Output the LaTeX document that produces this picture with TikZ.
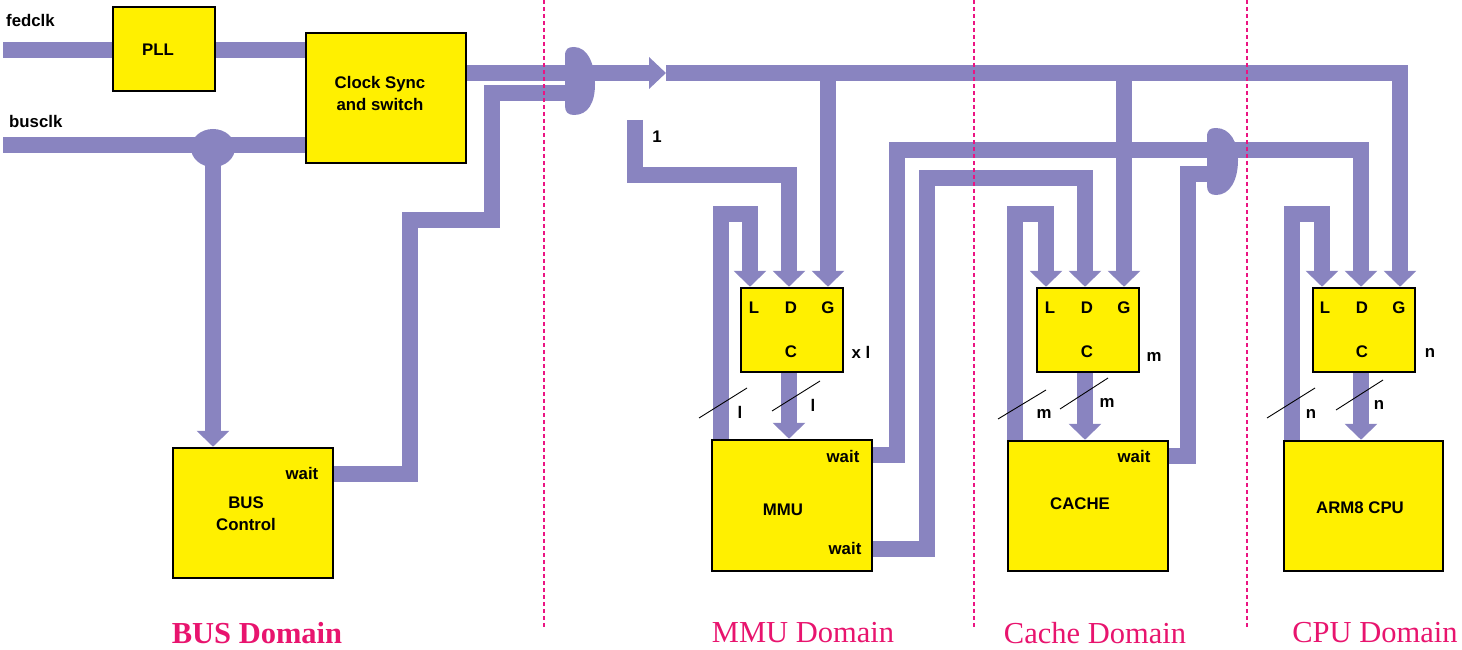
\documentclass[tikz,border=0pt]{standalone}
\usepackage{fontspec}
\setmainfont{Liberation Serif}
\setsansfont{Liberation Sans}
\usetikzlibrary{arrows.meta,backgrounds}
\definecolor{wire}{RGB}{137,132,192}
\definecolor{boxy}{RGB}{255,240,0}
\definecolor{dom}{RGB}{232,20,110}
\definecolor{sep}{RGB}{235,20,130}
\begin{document}
\begin{tikzpicture}[x=1pt,y=-1pt,
 wire/.style={draw=wire,line width=16pt},
 blob/.style={fill=wire,draw=none},
 arr/.style={wire,-{Triangle[width=32pt,length=16pt]}},
 box/.style={draw=black,fill=boxy,line width=2.5pt,inner sep=0pt},
 lbl/.style={font=\sffamily\bfseries\fontsize{16.8}{22}\selectfont,inner sep=0pt},
 domlbl/.style={font=\fontsize{30.5}{32}\selectfont,text=dom,inner sep=0pt},
 sepline/.style={draw=sep,line width=2.5pt,dash pattern=on 4pt off 3pt},
 slash/.style={draw=black,line width=0.9pt}]
\useasboundingbox (0,0) rectangle (1462,650);

% boxes
\node[box,minimum width=102pt,minimum height=84pt] (pll) at (164,49) {};
\node[box,minimum width=160pt,minimum height=130pt] (cs) at (386,98) {};
\node[box,minimum width=160pt,minimum height=130pt] (busctl) at (253,513) {};
\node[box,minimum width=102pt,minimum height=84pt] (ldg1) at (792,330) {};
\node[box,minimum width=160pt,minimum height=131pt] (mmu) at (792,505.5) {};
\node[box,minimum width=102pt,minimum height=84pt] (ldg2) at (1088,330) {};
\node[box,minimum width=160pt,minimum height=130pt] (cache) at (1088,506) {};
\node[box,minimum width=102pt,minimum height=84pt] (ldg3) at (1364,330) {};
\node[box,minimum width=159pt,minimum height=130pt] (cpu) at (1363.5,506) {};

% input points of the LDG boxes
\foreach \i in {1,2,3}{
  \coordinate (L\i) at ([xshift=-42pt]ldg\i.north);
  \coordinate (D\i) at ([xshift=-3pt]ldg\i.north);
  \coordinate (G\i) at ([xshift=36pt]ldg\i.north);
}

\coordinate (fedin) at (3,50);
\coordinate (busin) at (3,145);
\coordinate (jn) at (213,148);
\coordinate (m1) at (568,73);
\coordinate (m1out) at (590,73);
\coordinate (a1) at (666,73);
\coordinate (one) at (635,120);
\coordinate (bw) at ([yshift=39pt]busctl.east);
\coordinate (mw1) at ([yshift=50.5pt]mmu.east);
\coordinate (mw2) at ([yshift=-43.5pt]mmu.east);
\coordinate (cw) at ([yshift=50pt]cache.east);

\begin{scope}[on background layer]
% clock inputs
\draw[wire] (fedin) -- (fedin -| pll.west);
\draw[wire] (pll.east |- fedin) -- (cs.west |- fedin);
\draw[wire] (busin) -- (busin -| cs.west);
\fill[blob] (jn) ellipse [x radius=22pt, y radius=19pt];
\draw[arr] (jn) -- (jn |- busctl.north);
% clock sync to merge
\draw[wire] (cs.east |- m1) -- (m1);
\draw[wire] (bw) -| (410,220) -| (492,93) -- (570,93);
\fill[blob] (565,56) .. controls (565,49) and (568,47) .. (574,47)
  .. controls (588,47) and (595,65) .. (595,84)
  .. controls (595,103) and (588,115) .. (574,115)
  .. controls (568,115) and (565,112) .. (565,106) -- cycle;
\draw[wire,-{Triangle[width=31pt,length=17pt]}] (m1out) -- (a1);
% main clock bus
\draw[arr] (a1) -| (G3);
\draw[arr] (G1 |- a1) -- (G1);
\draw[arr] (G2 |- a1) -- (G2);
% constant 1 input
\draw[arr] (one) |- ([yshift=112pt]D1) -- (D1);
% L loops
\draw[arr] ([xshift=-71pt]mmu.north) |- ([yshift=73pt]L1) -- (L1);
\draw[arr] ([xshift=-73pt]cache.north) |- ([yshift=73pt]L2) -- (L2);
\draw[arr] ([xshift=-71.5pt]cpu.north) |- ([yshift=73pt]L3) -- (L3);
% C outputs
\draw[arr] (ldg1.south -| D1) -- (D1 |- mmu.north);
\draw[arr] (ldg2.south -| D2) -- (D2 |- cache.north);
\draw[arr] (ldg3.south -| D3) -- (D3 |- cpu.north);
% wait lines
\draw[arr] (mw1) -| (897,150) -| (D3);
\draw[arr] (mw2) -| (927,178) -| (D2);
\draw[wire] (cw) -| (1188,174) -- (1212,174);
\fill[blob] (1207,137) .. controls (1207,130) and (1210,128) .. (1216,128)
  .. controls (1230,128) and (1238,142) .. (1238,160)
  .. controls (1238,180) and (1230,195) .. (1216,195)
  .. controls (1210,195) and (1207,192) .. (1207,186) -- cycle;
\end{scope}

% texts
\node[lbl,anchor=west] (tfed) at (6,20) {fedclk};
\node[lbl,anchor=west] (tbus) at (9,121) {busclk};
\node[lbl] (tpll) at (158,50) {PLL};
\node[lbl,align=center] (tcs) at (380,93) {Clock Sync\\and switch};
\node[lbl,align=center] (tbc) at (246,514) {BUS\\Control};
\node[lbl] (tbw) at (302,473) {wait};
\node[lbl] (tmmu) at (783,510) {MMU};
\node[lbl] (tmw1) at (843,456) {wait};
\node[lbl] (tmw2) at (845,548) {wait};
\node[lbl] (tcache) at (1080,504) {CACHE};
\node[lbl] (tcw) at (1134,456) {wait};
\node[lbl] (tcpu) at (1360,508) {ARM8 CPU};
\node[lbl] (tone) at (657,137) {1};

\foreach \i/\cx in {1/791,2/1087,3/1362}{
  \node[lbl] (tL\i) at (\cx-37,308) {L};
  \node[lbl] (tD\i) at (\cx,308) {D};
  \node[lbl] (tG\i) at (\cx+37,308) {G};
  \node[lbl] (tC\i) at (\cx,352) {C};
}
\node[lbl] (tx) at (861,352) {x l};
\node[lbl] (tm) at (1154,357) {m};
\node[lbl] (tn) at (1430,353) {n};

% bus width marks
\draw[slash] (699,418) -- (747,388);
\draw[slash] (772,411) -- (820,381);
\draw[slash] (998,419) -- (1046,390);
\draw[slash] (1060,409) -- (1108,378);
\draw[slash] (1267,418) -- (1315,388);
\draw[slash] (1336,410) -- (1383,380);
\node[lbl] (sl1) at (740,412) {l};
\node[lbl] (sl2) at (813,405) {l};
\node[lbl] (sm1) at (1044,414) {m};
\node[lbl] (sm2) at (1107,403) {m};
\node[lbl] (sn1) at (1311,414) {n};
\node[lbl] (sn2) at (1379,405) {n};

% domain separators
\draw[sepline] (544,0) -- (544,628);
\draw[sepline] (974,0) -- (974,628);
\draw[sepline] (1247,0) -- (1247,628);

% domain labels
\node[domlbl,font=\bfseries\fontsize{30.5}{32}\selectfont] (dbus) at (257,633) {BUS Domain};
\node[domlbl] (dmmu) at (803,633) {MMU Domain};
\node[domlbl] (dcache) at (1095,633) {Cache Domain};
\node[domlbl] (dcpu) at (1375,633) {CPU Domain};
\end{tikzpicture}
\end{document}
